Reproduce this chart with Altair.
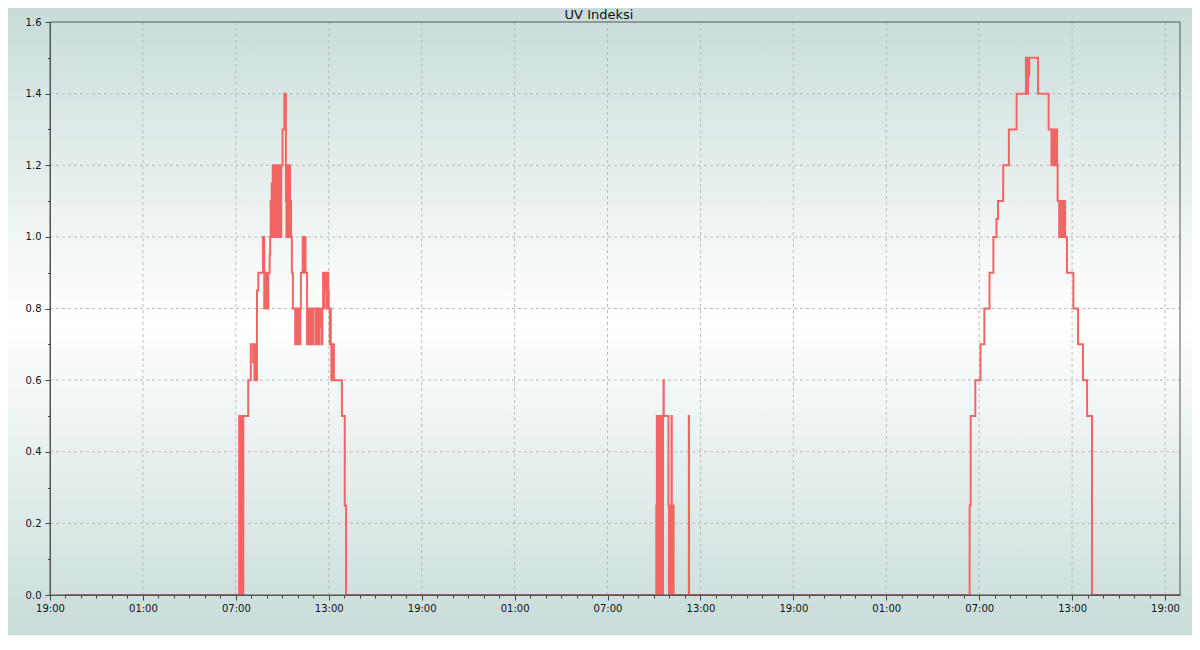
import altair as alt
import pandas as pd

# ---------------- data ----------------
day0 = "2024-06-10"
day1 = "2024-06-11"
day2 = "2024-06-12"
day3 = "2024-06-13"

series_start = "20:00"
series_end = "19:58"

day1_times = ["07:13", "07:15", "07:17", "07:19", "07:21", "07:23", "07:25", "07:27", "07:29",
              "07:48", "07:58", "08:07", "08:09", "08:12", "08:14", "08:17", "08:22", "08:27",
              "08:45", "08:50", "08:52", "08:54", "08:57", "08:59", "09:02", "09:04", "09:06",
              "09:11", "09:13", "09:15", "09:17", "09:19", "09:21", "09:23", "09:25", "09:27",
              "09:29", "09:31", "09:33", "09:35", "09:37", "09:39", "09:41", "09:43", "09:45",
              "09:48", "09:50", "09:52", "09:54", "09:56",
              "10:01", "10:08", "10:14", "10:16", "10:18", "10:20", "10:22", "10:24", "10:27",
              "10:30", "10:34", "10:37", "10:41",
              "10:50", "10:52", "10:54", "10:56", "10:58", "11:01", "11:03", "11:05", "11:08",
              "11:10", "11:12",
              "11:19", "11:21", "11:23", "11:25", "11:27", "11:30",
              "11:36", "11:39", "11:41", "11:43", "11:45", "11:47", "11:49", "11:52", "11:54",
              "11:56", "11:59",
              "12:08", "12:10", "12:13", "12:15", "12:17", "12:20", "12:23", "12:26", "12:29",
              "12:32", "12:35",
              "12:38", "12:40", "12:42", "12:44", "12:46", "12:51", "12:56", "12:58", "13:00",
              "13:04", "13:06", "13:08", "13:10", "13:12", "13:14", "13:16", "13:20",
              "13:51", "14:02", "14:07"]
day1_uv = [0.5, 0.0, 0.5, 0.0, 0.5, 0.0, 0.5, 0.0, 0.5,
           0.6, 0.7, 0.65, 0.7, 0.6, 0.7, 0.6, 0.85, 0.9,
           1.0, 0.8, 0.9, 0.8, 0.9, 0.8, 0.9, 0.8, 0.9,
           0.95, 1.0, 1.1, 1.0, 1.15, 1.0, 1.2, 1.05, 1.2,
           1.0, 1.2, 1.1, 1.2, 1.0, 1.2, 1.0, 1.2, 1.1,
           1.2, 1.0, 1.2, 1.0, 1.2,
           1.3, 1.4, 1.1, 1.0, 1.2, 1.0, 1.1, 1.0, 1.2,
           1.1, 1.0, 0.9, 0.8,
           0.7, 0.8, 0.7, 0.8, 0.7, 0.8, 0.7, 0.8, 0.7,
           0.8, 0.9,
           1.0, 0.9, 1.0, 0.9, 1.0, 0.9,
           0.7, 0.8, 0.7, 0.75, 0.8, 0.7, 0.8, 0.75, 0.8,
           0.7, 0.8,
           0.7, 0.8, 0.7, 0.75, 0.8, 0.7, 0.8, 0.75, 0.8,
           0.7, 0.8,
           0.9, 0.8, 0.9, 0.85, 0.9, 0.8, 0.9, 0.85, 0.8,
           0.7, 0.8, 0.7, 0.6, 0.7, 0.6, 0.7, 0.6,
           0.5, 0.25, 0.0]

day2_times = ["10:09", "10:11", "10:13", "10:15", "10:17", "10:19", "10:21", "10:23", "10:25",
              "10:27", "10:29", "10:31", "10:33", "10:35", "10:37", "10:38", "10:56", "10:58",
              "11:00", "11:02", "11:04", "11:06", "11:08", "11:09", "11:11", "11:13", "11:16",
              "12:15", "12:16"]
day2_uv = [0.25, 0.5, 0.0, 0.5, 0.0, 0.5, 0.25, 0.5, 0.0,
           0.5, 0.0, 0.5, 0.0, 0.5, 0.6, 0.5, 0.25, 0.0,
           0.25, 0.0, 0.25, 0.0, 0.5, 0.25, 0.0, 0.25, 0.0,
           0.5, 0.0]

day3_times = ["06:23", "06:27", "06:45", "07:05", "07:20", "07:40", "07:55", "08:07", "08:13",
              "08:33", "08:55", "09:25", "10:01", "10:03", "10:05", "10:07", "10:09", "10:11",
              "10:14", "10:48", "11:29", "11:40", "11:42", "11:44", "11:46", "11:48", "11:51",
              "11:53", "11:56", "11:58", "12:00", "12:02", "12:04", "12:10", "12:13", "12:15",
              "12:18", "12:20", "12:23", "12:25", "12:27", "12:29", "12:31", "12:33", "12:40",
              "13:05", "13:23", "13:42", "13:58", "14:17"]
day3_uv = [0.25, 0.5, 0.6, 0.7, 0.8, 0.9, 1.0, 1.05, 1.1,
           1.2, 1.3, 1.4, 1.5, 1.4, 1.5, 1.4, 1.5, 1.45,
           1.5, 1.4, 1.3, 1.2, 1.3, 1.2, 1.3, 1.2, 1.3,
           1.2, 1.3, 1.2, 1.3, 1.2, 1.1, 1.0, 1.1, 1.0,
           1.1, 1.0, 1.1, 1.05, 1.1, 1.0, 1.1, 1.0, 0.9,
           0.8, 0.7, 0.6, 0.5, 0.0]

y_major = [0.0, 0.2, 0.4, 0.6, 0.8, 1.0, 1.2, 1.4, 1.6]
y_minor = [0.1, 0.3, 0.5, 0.7, 0.9, 1.1, 1.3, 1.5]
x_start = "2024-06-10 19:00"
x_end = "2024-06-13 19:58"
title_text = "UV Indeksi"

# ---------------- build tables ----------------
rows = [(f"{day0}T{series_start}:00Z", 0.0)]
for d, ts, vs in [(day1, day1_times, day1_uv), (day2, day2_times, day2_uv), (day3, day3_times, day3_uv)]:
    for t, v in zip(ts, vs):
        rows.append((f"{d}T{t}:00Z", v))
rows.append((f"{day3}T{series_end}:00Z", 0.0))
df = pd.DataFrame(rows, columns=["time", "uv"])

t0 = pd.Timestamp(x_start, tz="UTC")
t1 = pd.Timestamp(x_end, tz="UTC")
ms = lambda ts: int(ts.value // 10**6)
x_major = [ms(t0 + pd.Timedelta(hours=6 * k)) for k in range(13)]
x_minor = [ms(t0 + pd.Timedelta(hours=k)) for k in range(73) if k % 6 != 0]
xdomain = [ms(t0), ms(t1)]

W, H = 1130, 573
PAD = {"left": 42, "top": 14, "right": 12, "bottom": 40}

one = pd.DataFrame({"a": [0]})
xgrid_df = pd.DataFrame({"t": x_major[1:]})
ygrid_df = pd.DataFrame({"v": y_major[1:-1]})

FONT = "DejaVu Sans"
xscale = alt.Scale(type="utc", domain=xdomain)
yscale = alt.Scale(domain=[0, 1.6], nice=False, zero=False)

bg = alt.Chart(one).mark_rect(
    fill={"gradient": "linear", "x1": 0, "x2": 0, "y1": 0, "y2": 1,
          "stops": [{"offset": 0, "color": "#c8dcda"},
                    {"offset": 0.5, "color": "#ffffff"},
                    {"offset": 1, "color": "#c8dcda"}]},
    strokeWidth=0
).encode(
    x=alt.value(-PAD["left"]), x2=alt.value(W + PAD["right"]),
    y=alt.value(-PAD["top"]), y2=alt.value(H + PAD["bottom"])
)

xgrid = alt.Chart(xgrid_df).mark_rule(color="#bcbcbc", strokeWidth=1, strokeDash=[3, 3]).encode(
    x=alt.X("t:T", scale=xscale, axis=None),
    y=alt.value(0), y2=alt.value(H)
)
ygrid = alt.Chart(ygrid_df).mark_rule(color="#bcbcbc", strokeWidth=1, strokeDash=[3, 3]).encode(
    y=alt.Y("v:Q", scale=yscale, axis=None),
    x=alt.value(0), x2=alt.value(W)
)

axis_common = dict(labelFont=FONT, labelFontSize=10, labelColor="#111111",
                   domainColor="#555555", domainWidth=1, tickColor="#444444",
                   tickWidth=1, grid=False, zindex=1, title=None)

line = alt.Chart(df).mark_line(interpolate="step-after", color="#f36565", strokeWidth=2).encode(
    x=alt.X("time:T", scale=xscale,
            axis=alt.Axis(values=x_major, labelExpr="utcFormat(datum.value, '%H:%M')",
                          tickSize=5, labelPadding=3, labelFlush=False, labelOverlap=False,
                          orient="bottom", **axis_common)),
    y=alt.Y("uv:Q", scale=yscale,
            axis=alt.Axis(values=y_major, format=".1f", tickSize=5, labelPadding=4,
                          orient="left", labelOverlap=False, **axis_common))
)

minor = alt.Chart(df).mark_line(opacity=0).encode(
    x=alt.X("time:T", scale=xscale,
            axis=alt.Axis(values=x_minor, labels=False, tickSize=3, domain=False,
                          orient="bottom", grid=False, zindex=1, tickColor="#444444", title=None)),
    y=alt.Y("uv:Q", scale=yscale,
            axis=alt.Axis(values=y_minor, labels=False, tickSize=2.5, domain=False,
                          orient="left", grid=False, zindex=1, tickColor="#444444", title=None))
)

border = alt.Chart(one).mark_rect(fillOpacity=0, stroke="#555555", strokeWidth=1).encode(
    x=alt.value(0), x2=alt.value(W), y=alt.value(0), y2=alt.value(H)
)

title = alt.Chart(one).mark_text(
    text=title_text, font=FONT, fontSize=13, color="#111111",
    align="center", baseline="alphabetic"
).encode(x=alt.value(549), y=alt.value(-3))

chart = alt.layer(bg, xgrid, ygrid, line, minor, border, title).resolve_axis(
    x="independent", y="independent"
).properties(
    width=W, height=H, padding=PAD,
    autosize=alt.AutoSizeParams(type="none"),
    background="#c8dcda"
).configure_view(stroke=None)

chart.save("out.html", embed_options={"renderer": "svg", "actions": False})
